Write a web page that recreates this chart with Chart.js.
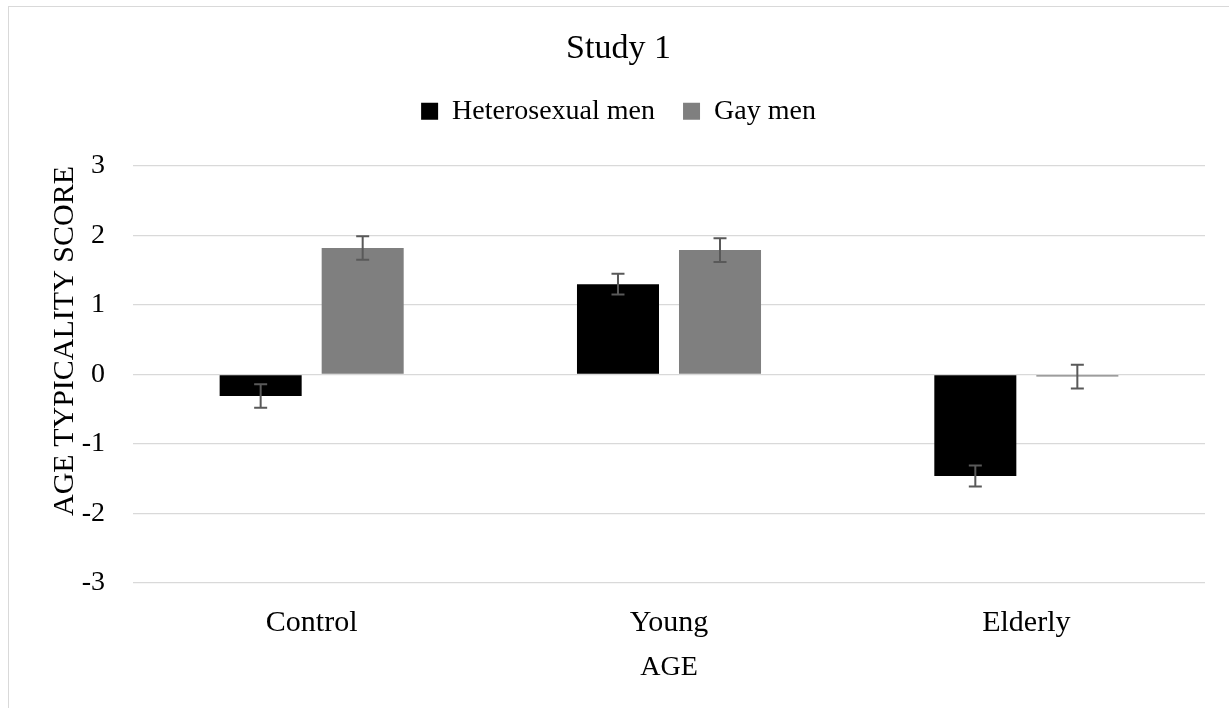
<!DOCTYPE html>
<html>
<head>
<meta charset="utf-8">
<script src="https://cdn.jsdelivr.net/npm/chart.js@4"></script>
<style>
  html, body { margin: 0; padding: 0; background: #ffffff; }
  #wrap { width: 1229px; height: 708px; }
</style>
</head>
<body>
<div id="wrap"><canvas id="chart" width="1229" height="708"></canvas></div>
<script>
// Age conditions on the x axis
const categories = ['Control', 'Young', 'Elderly'];

// Mean age typicality scores and standard errors per group
const heteroMeans = [-0.31, 1.30, -1.46];
const heteroErrors = [0.17, 0.15, 0.15];
const gayMeans = [1.82, 1.79, -0.03];
const gayErrors = [0.17, 0.17, 0.17];

const seriesNames = ['Heterosexual men', 'Gay men'];
const yTicks = [-3, -2, -1, 0, 1, 2, 3];

const serif = '"Liberation Serif", "Times New Roman", serif';

// Thin grey frame around the whole chart
const framePlugin = {
  id: 'frame',
  beforeDraw(chart) {
    const ctx = chart.ctx;
    ctx.save();
    ctx.fillStyle = '#ffffff';
    ctx.fillRect(0, 0, chart.width, chart.height);
    ctx.strokeStyle = '#d9d9d9';
    ctx.lineWidth = 1;
    ctx.strokeRect(8.5, 6.5, chart.width + 20, chart.height + 20);
    ctx.restore();
  }
};

// Error bars (mean ± SE) drawn on top of each bar
const errorBarPlugin = {
  id: 'errorBars',
  afterDatasetsDraw(chart) {
    const ctx = chart.ctx;
    const yScale = chart.scales.y;
    ctx.save();
    ctx.strokeStyle = '#595959';
    ctx.lineWidth = 2;
    chart.data.datasets.forEach((ds, di) => {
      const meta = chart.getDatasetMeta(di);
      meta.data.forEach((bar, i) => {
        const v = ds.data[i];
        const e = ds.errors[i];
        const x = bar.x;
        const yHi = yScale.getPixelForValue(v + e);
        const yLo = yScale.getPixelForValue(v - e);
        const cap = 6.5;
        ctx.beginPath();
        ctx.moveTo(x, yHi); ctx.lineTo(x, yLo);
        ctx.moveTo(x - cap, yHi); ctx.lineTo(x + cap, yHi);
        ctx.moveTo(x - cap, yLo); ctx.lineTo(x + cap, yLo);
        ctx.stroke();
      });
    });
    ctx.restore();
  }
};

new Chart(document.getElementById('chart'), {
  type: 'bar',
  data: {
    labels: categories,
    datasets: [
      {
        label: seriesNames[0],
        data: heteroMeans,
        errors: heteroErrors,
        backgroundColor: '#000000',
        categoryPercentage: 0.571,
        barPercentage: 0.804
      },
      {
        label: seriesNames[1],
        data: gayMeans,
        errors: gayErrors,
        backgroundColor: '#7f7f7f',
        categoryPercentage: 0.571,
        barPercentage: 0.804
      }
    ]
  },
  options: {
    responsive: false,
    animation: false,
    layout: { padding: { left: 8, top: 0, right: 0, bottom: 23.7 } },
    plugins: {
      title: {
        display: true,
        text: 'Study 1',
        color: '#000000',
        font: { family: serif, size: 34, weight: 'normal' },
        padding: { top: 28.5, bottom: 0 }
      },
      legend: {
        display: true,
        position: 'top',
        labels: {
          color: '#000000',
          font: { family: serif, size: 28 },
          boxWidth: 17,
          boxHeight: 17,
          padding: 28
        }
      },
      subtitle: {
        display: true,
        text: '',
        weight: 500,
        font: { size: 10, lineHeight: 1 },
        padding: { top: 0, bottom: 20.7 }
      },
      tooltip: { enabled: false }
    },
    scales: {
      x: {
        grid: { display: false },
        border: { display: false },
        ticks: {
          color: '#000000',
          font: { family: serif, size: 30 },
          padding: 14,
          maxRotation: 0
        },
        title: {
          display: true,
          text: 'AGE',
          color: '#000000',
          font: { family: serif, size: 28 },
          padding: { top: 0, bottom: 0 }
        },
        afterFit(scale) {
          scale.height = 101.3;
          scale.paddingRight = 24;
          scale.paddingLeft = 0;
        }
      },
      y: {
        min: yTicks[0],
        max: yTicks[yTicks.length - 1],
        afterBuildTicks(scale) {
          scale.ticks = yTicks.map(v => ({ value: v }));
        },
        grid: { color: '#d9d9d9', lineWidth: 1.3, drawTicks: false },
        border: { display: false },
        ticks: {
          color: '#000000',
          font: { family: serif, size: 28 },
          padding: 28
        },
        title: {
          display: true,
          text: 'AGE TYPICALITY SCORE',
          align: 'end',
          color: '#000000',
          font: { family: serif, size: 30 },
          padding: { top: 39, bottom: 0 }
        },
        afterFit(scale) {
          scale.width = 125;
        }
      }
    }
  },
  plugins: [framePlugin, errorBarPlugin]
});
</script>
</body>
</html>
